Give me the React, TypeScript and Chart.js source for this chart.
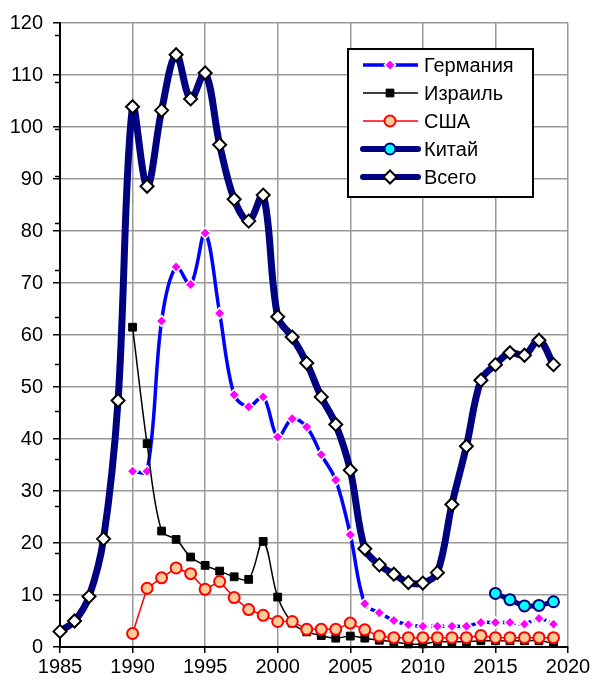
import React, { useEffect, useRef } from 'react';
import { Chart, registerables } from 'chart.js';
import { drawPoint } from 'chart.js/helpers';

Chart.register(...registerables);

// ---------- data ----------
const totalYears = [
  1985, 1986, 1987, 1988, 1989, 1990, 1991, 1992, 1993, 1994, 1995, 1996,
  1997, 1998, 1999, 2000, 2001, 2002, 2003, 2004, 2005, 2006, 2007, 2008,
  2009, 2010, 2011, 2012, 2013, 2014, 2015, 2016, 2017, 2018, 2019,
];
const totalValues = [
  3.0, 5.0, 9.7, 20.8, 47.4, 103.9, 88.6, 103.2, 113.9, 105.4, 110.4, 96.6,
  86.1, 81.9, 86.9, 63.5, 59.6, 54.6, 48.1, 42.8, 34.0, 18.9, 15.8, 14.0,
  12.4, 12.3, 14.3, 27.4, 38.6, 51.3, 54.3, 56.6, 56.1, 59.0, 54.3,
];

const seriesYears = [
  1990, 1991, 1992, 1993, 1994, 1995, 1996, 1997, 1998, 1999, 2000, 2001,
  2002, 2003, 2004, 2005, 2006, 2007, 2008, 2009, 2010, 2011, 2012, 2013,
  2014, 2015, 2016, 2017, 2018, 2019,
];
const germanyValues = [
  33.8, 33.8, 62.7, 73.1, 69.7, 79.6, 64.2, 48.5, 46.2, 48.1, 40.4, 43.9,
  42.3, 37.0, 32.1, 21.6, 8.3, 6.6, 5.1, 4.3, 4.0, 4.0, 4.0, 4.0,
  4.7, 4.7, 4.7, 4.4, 5.5, 4.4,
];
const israelValues = [
  61.5, 39.1, 22.3, 20.7, 17.3, 15.7, 14.6, 13.5, 13.0, 20.3, 9.6, 4.6,
  2.9, 2.2, 1.7, 2.1, 1.7, 1.3, 1.0, 0.6, 0.6, 1.0, 1.0, 1.0,
  1.2, 1.2, 1.2, 1.2, 1.2, 0.7,
];
const usaValues = [
  2.6, 11.3, 13.3, 15.2, 14.1, 11.1, 12.6, 9.5, 7.2, 6.1, 4.9, 4.9,
  3.4, 3.4, 3.4, 4.6, 3.3, 2.1, 1.8, 1.8, 1.8, 1.8, 1.8, 1.8,
  2.2, 1.8, 1.8, 1.8, 1.8, 1.8,
];

const chinaYears = [2015, 2016, 2017, 2018, 2019];
const chinaValues = [10.3, 9.1, 7.9, 8.0, 8.7];

const seriesNames = ['Германия', 'Израиль', 'США', 'Китай', 'Всего'];

const xMin = 1985;
const xMax = 2020;
const xStep = 5;
const yMin = 0;
const yMax = 120;
const yStep = 10;
const yMinorStep = 9.06;
const dashedFrom = 2006;

const FONT = '"Liberation Sans", Arial, sans-serif';

const toPoints = (xs: number[], ys: number[]) => xs.map((x, i) => ({ x, y: ys[i] }));

// legend item styles
const legendItems = [
  { line: '#0000FF', lineWidth: 3.5, point: { pointStyle: 'rectRot', radius: 5.5, borderWidth: 1.5, bg: '#FF00FF', border: '#FFFFFF' } },
  { line: '#000000', lineWidth: 1.5, point: { pointStyle: 'rect', radius: 5.5, borderWidth: 1, bg: '#000000', border: '#000000' } },
  { line: '#FF0000', lineWidth: 1.5, point: { pointStyle: 'circle', radius: 5.5, borderWidth: 2, bg: '#FFCC99', border: '#FF0000' } },
  { line: '#000080', lineWidth: 6, point: { pointStyle: 'circle', radius: 5.5, borderWidth: 2, bg: '#00FFFF', border: '#000080' } },
  { line: '#000080', lineWidth: 6, point: { pointStyle: 'rectRot', radius: 6.5, borderWidth: 2, bg: '#FFFFFF', border: '#000000' } },
];

const boxLegendPlugin = {
  id: 'boxLegend',
  afterDraw(chart: any) {
    const ctx = chart.ctx as CanvasRenderingContext2D;
    const bx = 348, by = 49, bw = 185, bh = 148;
    ctx.save();
    ctx.fillStyle = '#FFFFFF';
    ctx.fillRect(bx, by, bw, bh);
    ctx.strokeStyle = '#000000';
    ctx.lineWidth = 2;
    ctx.strokeRect(bx, by, bw, bh);
    const rowY0 = 65;
    const rowH = 28;
    legendItems.forEach((it, i) => {
      const y = rowY0 + i * rowH;
      ctx.strokeStyle = it.line;
      ctx.lineWidth = it.lineWidth;
      ctx.lineCap = i >= 3 ? 'round' : 'butt';
      ctx.beginPath();
      ctx.moveTo(363, y);
      ctx.lineTo(418, y);
      ctx.stroke();
      ctx.fillStyle = it.point.bg;
      ctx.strokeStyle = it.point.border;
      ctx.lineWidth = it.point.borderWidth;
      drawPoint(ctx, { pointStyle: it.point.pointStyle as any, radius: it.point.radius, borderWidth: it.point.borderWidth, rotation: 0 }, 390, y);
      ctx.fillStyle = '#000000';
      ctx.font = `20px ${FONT}`;
      ctx.textBaseline = 'middle';
      ctx.textAlign = 'left';
      ctx.fillText(seriesNames[i], 424, y + 1);
    });
    ctx.restore();
  },
};

const minorTickPlugin = {
  id: 'minorTicks',
  afterDatasetsDraw(chart: any) {
    const ctx = chart.ctx as CanvasRenderingContext2D;
    const yScale = chart.scales.y;
    const left = chart.chartArea.left;
    ctx.save();
    ctx.strokeStyle = '#000000';
    ctx.lineWidth = 1.5;
    for (let v = yMinorStep; v < yMax; v += yMinorStep) {
      const py = Math.round(yScale.getPixelForValue(v)) + 0.5;
      ctx.beginPath();
      ctx.moveTo(left - 5, py);
      ctx.lineTo(left, py);
      ctx.stroke();
    }
    ctx.restore();
  },
};

export default function App() {
  const canvasRef = useRef<HTMLCanvasElement | null>(null);

  useEffect(() => {
    const canvas = canvasRef.current;
    if (!canvas) return;
    const chart = new Chart(canvas, {
      type: 'line',
      data: {
        datasets: [
          {
            label: seriesNames[2],
            data: toPoints(seriesYears, usaValues),
            borderColor: '#FF0000',
            borderWidth: 1.5,
            tension: 0,
            pointStyle: 'circle',
            pointRadius: 5.5,
            pointBorderWidth: 2,
            pointBackgroundColor: '#FFCC99',
            pointBorderColor: '#FF0000',
            clip: false,
          },
          {
            label: seriesNames[1],
            data: toPoints(seriesYears, israelValues),
            borderColor: '#000000',
            borderWidth: 1.5,
            tension: 0.35,
            pointStyle: 'rect',
            pointRadius: 5.5,
            pointBorderWidth: 1,
            pointBackgroundColor: '#000000',
            pointBorderColor: '#000000',
            clip: false,
          },
          {
            label: seriesNames[0],
            data: toPoints(seriesYears, germanyValues),
            borderColor: '#0000FF',
            borderWidth: 3.5,
            tension: 0.35,
            pointStyle: 'rectRot',
            pointRadius: 5.5,
            pointBorderWidth: 1.5,
            pointBackgroundColor: '#FF00FF',
            pointBorderColor: '#FFFFFF',
            segment: {
              borderDash: (c: any) => (c.p0.parsed.x >= dashedFrom ? [5, 3] : undefined),
            },
            clip: false,
          },
          {
            label: seriesNames[3],
            data: toPoints(chinaYears, chinaValues),
            borderColor: '#000080',
            borderWidth: 5,
            tension: 0.35,
            pointStyle: 'circle',
            pointRadius: 5.5,
            pointBorderWidth: 2,
            pointBackgroundColor: '#00FFFF',
            pointBorderColor: '#000080',
            clip: false,
          },
          {
            label: seriesNames[4],
            data: toPoints(totalYears, totalValues),
            borderColor: '#000080',
            borderWidth: 7,
            tension: 0.35,
            pointStyle: 'rectRot',
            pointRadius: 6.5,
            pointBorderWidth: 2,
            pointBackgroundColor: '#FFFFFF',
            pointBorderColor: '#000000',
            clip: false,
          },
        ],
      },
      options: {
        responsive: false,
        animation: false,
        devicePixelRatio: 1,
        layout: { padding: { left: 0, top: 23, right: 25, bottom: 0 } },
        plugins: {
          legend: { display: false },
          tooltip: { enabled: false },
        },
        scales: {
          x: {
            type: 'linear',
            min: xMin,
            max: xMax,
            afterFit: (s: any) => { s.height = 35; },
            ticks: {
              stepSize: xStep,
              color: '#000000',
              font: { family: FONT, size: 20 },
              padding: 2,
              maxRotation: 0,
              callback: (v: any) => String(v),
            },
            grid: {
              color: '#999999',
              lineWidth: 1.5,
              tickColor: '#000000',
              tickLength: 6,
              tickWidth: 1.5,
            },
            border: { color: '#000000', width: 2 },
          },
          y: {
            type: 'linear',
            min: yMin,
            max: yMax,
            afterFit: (s: any) => { s.width = 60; },
            ticks: {
              stepSize: yStep,
              color: '#000000',
              font: { family: FONT, size: 20 },
              padding: 10,
              callback: (v: any) => String(v),
            },
            grid: {
              color: '#999999',
              lineWidth: 1.5,
              tickColor: '#000000',
              tickLength: 7,
              tickWidth: 1.5,
            },
            border: { color: '#000000', width: 2 },
          },
        },
      },
      plugins: [minorTickPlugin, boxLegendPlugin],
    } as any);
    return () => chart.destroy();
  }, []);

  return (
    <div style={{ position: 'absolute', left: 0, top: 0, width: 593, height: 682, background: '#FFFFFF' }}>
      <canvas ref={canvasRef} width={593} height={682} style={{ width: 593, height: 682, display: 'block' }} />
    </div>
  );
}
